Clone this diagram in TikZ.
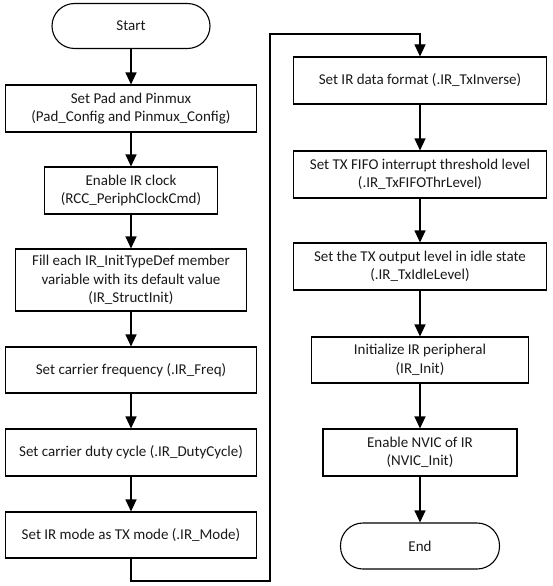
\documentclass[tikz,border=0pt]{standalone}
\usepackage{fontspec}
\setmainfont{Carlito}
\usetikzlibrary{arrows.meta}
\begin{document}
\begin{tikzpicture}[x=1pt,y=-1pt,
  box/.style={draw=black,line width=1.1pt,rectangle,inner sep=0pt,align=center,
    font=\fontsize{15pt}{18.5pt}\selectfont,text=black!90},
  term/.style={box,rounded corners=22.5pt},
  arr/.style={draw=black,line width=1.1pt,-{Triangle[length=12pt,width=11pt]}},
  link/.style={draw=black,line width=1.1pt}]
\useasboundingbox (0,0) rectangle (552,586);
% left column
\node[term,minimum width=158pt,minimum height=45pt] (start) at (131,26) {Start};
\node[box,minimum width=251pt,minimum height=47pt] (b1) at (131,108.5) {Set Pad and Pinmux\\(Pad\_Config and Pinmux\_Config)};
\node[box,minimum width=173pt,minimum height=47pt] (b2) at (131,190.5) {Enable IR clock\\(RCC\_PeriphClockCmd)};
\node[box,minimum width=231pt,minimum height=62pt] (b3) at (131,280) {Fill each IR\_InitTypeDef member\\variable with its default value\\(IR\_StructInit)};
\node[box,minimum width=251pt,minimum height=46pt] (b4) at (131,370) {Set carrier frequency (.IR\_Freq)};
\node[box,minimum width=251pt,minimum height=47pt] (b5) at (131,452.5) {Set carrier duty cycle (.IR\_DutyCycle)};
\node[box,minimum width=251pt,minimum height=46pt] (b6) at (131,535) {Set IR mode as TX mode (.IR\_Mode)};
% right column
\node[box,minimum width=253pt,minimum height=47pt] (b7) at (420,80.5) {Set IR data format (.IR\_TxInverse)};
\node[box,minimum width=253pt,minimum height=47pt] (b8) at (420,174.5) {Set TX FIFO interrupt threshold level\\(.IR\_TxFIFOThrLevel)};
\node[box,minimum width=253pt,minimum height=47pt] (b9) at (420,266.5) {Set the TX output level in idle state\\(.IR\_TxIdleLevel)};
\node[box,minimum width=217pt,minimum height=46pt] (b10) at (420,360) {Initialize IR peripheral\\(IR\_Init)};
\node[box,minimum width=194pt,minimum height=47pt] (b11) at (420,452.5) {Enable NVIC of IR\\(NVIC\_Init)};
\node[term,minimum width=159pt,minimum height=46pt] (end) at (420,546) {End};
% connectors
\draw[arr] (start.south) -- (b1.north);
\draw[arr] (b1.south) -- (b2.north);
\draw[arr] (b2.south) -- (b3.north);
\draw[arr] (b3.south) -- (b4.north);
\draw[arr] (b4.south) -- (b5.north);
\draw[arr] (b5.south) -- (b6.north);
\coordinate (c1) at (131,581);
\coordinate (c2) at (270,581);
\coordinate (c3) at (270,34);
\draw[arr] (b6.south) -- (c1) -- (c2) -- (c3) -- (c3 -| b7.north) -- (b7.north);
\draw[arr] (b7.south) -- (b8.north);
\draw[arr] (b8.south) -- (b9.north);
\draw[arr] (b9.south) -- (b10.north);
\draw[arr] (b10.south) -- (b11.north);
\draw[arr] (b11.south) -- (end.north);
\end{tikzpicture}
\end{document}
